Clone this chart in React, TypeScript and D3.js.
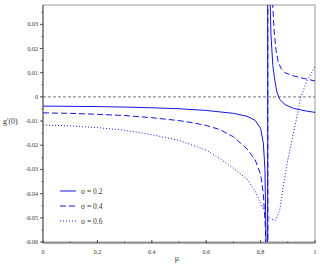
import React from "react";
import * as d3 from "d3";

// sigma = 0.2 (solid): pole near mu = 0.826
const mu02 = [0, 0.1, 0.2, 0.3, 0.4, 0.5, 0.6, 0.7, 0.75, 0.78, 0.8, 0.81, 0.816, 0.82, 0.823, 0.8255,
  0.8265, 0.83, 0.834, 0.838, 0.845, 0.852, 0.86, 0.87, 0.89, 0.92, 0.96, 1.0];
const g02 = [-0.0038, -0.0039, -0.004, -0.0042, -0.0045, -0.0049, -0.0056, -0.0068, -0.008, -0.0097, -0.013, -0.019, -0.03, -0.06, -0.12, -0.4,
  0.4, 0.09, 0.045, 0.026, 0.013, 0.007, 0.002, -0.001, -0.0032, -0.0047, -0.0057, -0.0064];

// sigma = 0.4 (dashed)
const mu04 = [0, 0.1, 0.2, 0.3, 0.4, 0.5, 0.55, 0.6, 0.65, 0.7, 0.75, 0.78, 0.8, 0.81, 0.818, 0.822, 0.825, 0.8262,
  0.8272, 0.832, 0.838, 0.845, 0.85, 0.857, 0.865, 0.875, 0.89, 0.92, 0.96, 1.0];
const g04 = [-0.0066, -0.0068, -0.0072, -0.0077, -0.0086, -0.0098, -0.0107, -0.0118, -0.0135, -0.0165, -0.0215, -0.026, -0.032, -0.04, -0.055, -0.1, -0.4, -0.9,
  0.9, 0.15, 0.06, 0.037, 0.027, 0.019, 0.0145, 0.0118, 0.01, 0.0087, 0.0076, 0.0066];

// sigma = 0.6 (dotted), no pole
const mu06 = [0, 0.1, 0.2, 0.3, 0.4, 0.5, 0.6, 0.65, 0.7, 0.75, 0.78, 0.8, 0.82, 0.84, 0.855, 0.87, 0.885, 0.9, 0.915, 0.93, 0.948, 0.97, 1.0];
const g06 = [-0.0116, -0.012, -0.0127, -0.0138, -0.0156, -0.018, -0.022, -0.0255, -0.0295, -0.034, -0.039, -0.044, -0.0485, -0.0505, -0.051, -0.047, -0.036, -0.026, -0.018, -0.01, 0, 0.0065, 0.0124];

const xTicks = [0, 0.2, 0.4, 0.6, 0.8, 1];
const xTickLabels = ["0", "0.2", "0.4", "0.6", "0.8", "1"];
const yTicks = [0.03, 0.02, 0.01, 0, -0.01, -0.02, -0.03, -0.04, -0.05, -0.06];
const yTickLabels = ["0.03", "0.02", "0.01", "0", "-0.01", "-0.02", "-0.03", "-0.04", "-0.05", "-0.06"];
const legendLabels = ["σ = 0.2", "σ = 0.4", "σ = 0.6"];

const BLUE = "#1515e0";
const dashes = [null, "6,3", "1,2"];

export default function App() {
  const left = 43, right = 315, top = 5, bottom = 242;
  const x = d3.scaleLinear().domain([0, 1]).range([left, right]);
  const y = d3.scaleLinear().domain([-0.06, 0.038]).range([bottom, top]);

  const line = d3.line<[number, number]>()
    .x(d => x(d[0]))
    .y(d => y(d[1]));

  const series = [
    d3.zip(mu02, g02) as [number, number][],
    d3.zip(mu04, g04) as [number, number][],
    d3.zip(mu06, g06) as [number, number][],
  ];

  const minorX = d3.range(0, 1.0001, 0.1);
  const minorY = d3.range(-0.06, 0.0376, 0.005);
  const font = "'Liberation Serif', 'Times New Roman', serif";

  return (
    <svg width={320} height={270} style={{ position: "absolute", left: 0, top: 0, background: "#fff" }}>
      <defs>
        <clipPath id="plot">
          <rect x={left} y={top} width={right - left} height={bottom - top} />
        </clipPath>
      </defs>

      {/* frame */}
      <rect x={left} y={top} width={right - left} height={bottom - top} fill="none" stroke="#999" strokeWidth={1} />

      {/* zero line */}
      <line x1={left} x2={right} y1={y(0)} y2={y(0)} stroke="#777" strokeWidth={1} strokeDasharray="3,2" />

      <g clipPath="url(#plot)">
        {series.map((s, i) => (
          <path key={i} d={line(s) || ""} fill="none" stroke={BLUE} strokeWidth={1}
            strokeDasharray={dashes[i] || undefined} />
        ))}
      </g>

      {/* axes */}
      <line x1={left} x2={left} y1={top} y2={bottom + 1} stroke="#555" />
      <line x1={left} x2={right} y1={bottom + 1} y2={bottom + 1} stroke="#555" />

      {minorY.map((v, i) => (
        <line key={"my" + i} x1={left - 1.5} x2={left} y1={y(v)} y2={y(v)} stroke="#555" />
      ))}
      {yTicks.map((v, i) => (
        <g key={"y" + i}>
          <line x1={left - 3} x2={left} y1={y(v)} y2={y(v)} stroke="#555" />
          <text x={left - 5} y={y(v) + 2} fontSize={6} fontFamily={font} textAnchor="end" fill="#333">
            {yTickLabels[i]}
          </text>
        </g>
      ))}

      {minorX.map((v, i) => (
        <line key={"mx" + i} x1={x(v)} x2={x(v)} y1={bottom + 1} y2={bottom - 0.5} stroke="#555" />
      ))}
      {xTicks.map((v, i) => (
        <g key={"x" + i}>
          <line x1={x(v)} x2={x(v)} y1={bottom + 1} y2={bottom - 2} stroke="#555" />
          <text x={x(v)} y={bottom + 12} fontSize={6} fontFamily={font} textAnchor="middle" fill="#333">
            {xTickLabels[i]}
          </text>
        </g>
      ))}

      {/* axis titles */}
      <text x={3} y={124} fontSize={8} fontFamily={font} fill="#333">g'(0)</text>
      <text x={177} y={261} fontSize={8} fontFamily={font} fill="#333" textAnchor="middle">μ</text>

      {/* legend */}
      {legendLabels.map((lab, i) => (
        <g key={"l" + i} transform={`translate(0,${191 + i * 15})`}>
          <line x1={60} x2={76} y1={0} y2={0} stroke={BLUE} strokeWidth={1}
            strokeDasharray={dashes[i] || undefined} />
          <text x={81} y={2.5} fontSize={7.5} fontFamily={font} fill="#333">{lab}</text>
        </g>
      ))}
    </svg>
  );
}
